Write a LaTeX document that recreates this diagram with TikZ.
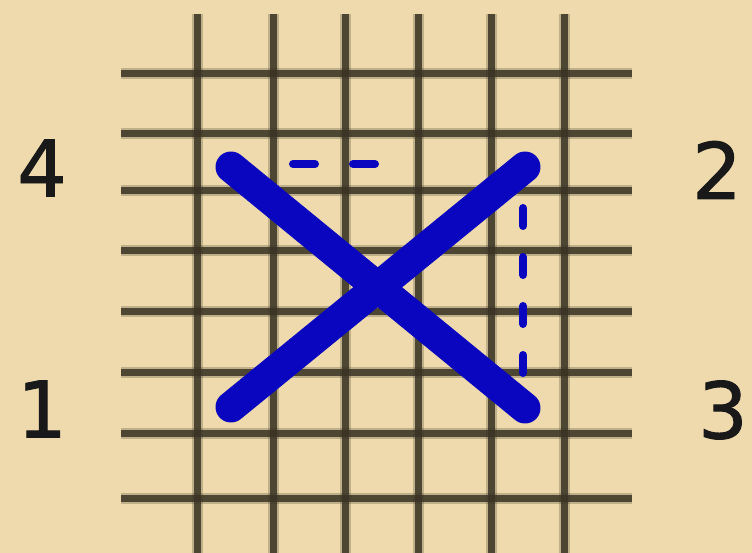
\documentclass[tikz,border=0pt]{standalone}
\usepackage{fontspec}
\setmainfont{DejaVu Sans}
\newfontfamily\numfont{DejaVu Sans}[FakeBold=1.2]
\definecolor{paper}{RGB}{238,218,172}
\definecolor{gridc}{RGB}{58,52,36}
\definecolor{stitch}{RGB}{10,5,190}
\tikzset{
  gridline/.style={draw=gridc, line width=7pt, opacity=0.85},
  gridblur/.style={draw=gridc, line width=11pt, opacity=0.25},
  cross/.style={draw=stitch, line width=31pt, line cap=round},
  back/.style={draw=stitch, line width=8pt, line cap=round},
  numlabel/.style={font=\numfont\fontsize{78}{78}\selectfont, text=black!90, inner sep=0pt}
}
\begin{document}
\begin{tikzpicture}[x=1pt,y=-1pt]
\fill[paper] (0,0) rectangle (752,553);
\useasboundingbox (0,0) rectangle (752,553);
% grid
\foreach \x in {197,273,345,418,491,564} {
  \draw[gridblur] (\x,14) -- (\x,553);
  \draw[gridline] (\x,14) -- (\x,553);
}
\foreach \y in {74,134,191,251,311,372,433,498} {
  \draw[gridblur] (121,\y) -- (632,\y);
  \draw[gridline] (121,\y) -- (632,\y);
}
% stitch points
\coordinate (p4) at (231,167);
\coordinate (p2) at (525,167);
\coordinate (p1) at (231,407);
\coordinate (p3) at (525,408);
% dashed back stitches
\coordinate (d1) at (293,164);
\coordinate (d2) at (375,164);
\coordinate (d3) at (523,190);
\coordinate (d4) at (523,378);
\draw[back, dash pattern=on 22pt off 38pt] (d1) -- (d2);
\draw[back, dash pattern=on 18pt off 31pt, dash phase=31pt] (d3) -- (d4);
% cross stitch
\draw[cross] (p1) -- (p2);
\draw[cross] (p4) -- (p3);
% labels
\node[numlabel] (l4) at (42,168) {4};
\node[numlabel] (l1) at (42,409) {1};
\node[numlabel] (l2) at (717,170) {2};
\node[numlabel] (l3) at (723,410) {3};
\end{tikzpicture}
\end{document}
